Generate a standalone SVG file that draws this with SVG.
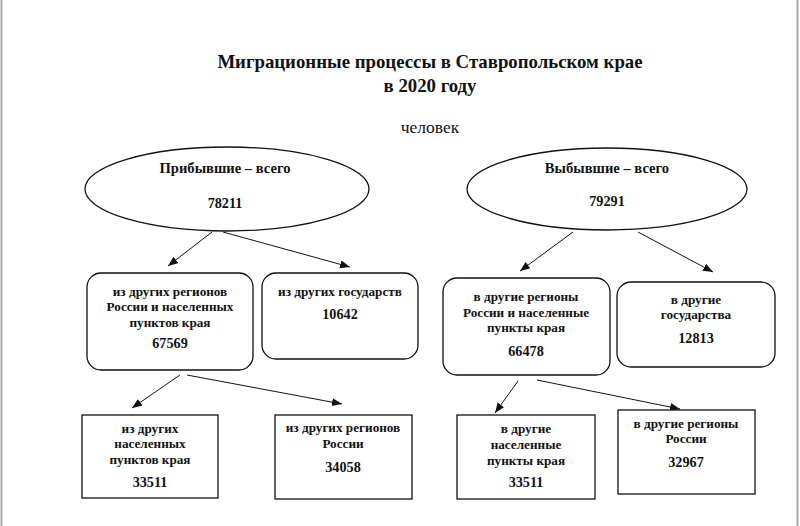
<svg xmlns="http://www.w3.org/2000/svg" width="800" height="526" viewBox="0 0 800 526" font-family="'Liberation Serif', 'Times New Roman', 'DejaVu Serif', serif">
<defs>
<style>
text{font-family:'Liberation Serif','Times New Roman','DejaVu Serif',serif;fill:#111;text-anchor:middle}
.t{font-weight:bold;font-size:18.8px}
.u{font-size:17.5px}
.e{font-weight:bold;font-size:14.6px}
.b{font-weight:bold;font-size:13.2px}
.n{font-weight:bold;font-size:14.2px}
.shape{fill:#fff;stroke:#111;stroke-width:1.3}
.c line{stroke:#111;stroke-width:1}
.frame{stroke:#aaa;stroke-width:2}
</style>
<marker id="ah" markerUnits="userSpaceOnUse" markerWidth="12" markerHeight="10" refX="10" refY="4" orient="auto">
<path d="M0,0 L10,4 L0,8 z" fill="#111"/>
</marker>
</defs>
<rect x="0" y="0" width="800" height="526" fill="#fff"/>
<line class="frame" x1="1.5" y1="0" x2="1.5" y2="526"/>
<line class="frame" x1="797.5" y1="0" x2="797.5" y2="526"/>

<g id="title">
<text class="t" x="430" y="68">Миграционные процессы в Ставропольском крае</text>
<text class="t" x="430" y="92">в 2020 году</text>
<text class="u" x="430" y="133">человек</text>
</g>

<g class="c" id="connectors">
<line x1="212" y1="232" x2="168" y2="266" marker-end="url(#ah)"/>
<line x1="223" y1="232" x2="350" y2="267" marker-end="url(#ah)"/>
<line x1="573" y1="232" x2="520" y2="271" marker-end="url(#ah)"/>
<line x1="638" y1="232" x2="713" y2="272" marker-end="url(#ah)"/>
<line x1="180" y1="375" x2="132" y2="408" marker-end="url(#ah)"/>
<line x1="187" y1="375" x2="342" y2="404" marker-end="url(#ah)"/>
<line x1="518" y1="381" x2="495" y2="413" marker-end="url(#ah)"/>
<line x1="537" y1="380" x2="680" y2="409" marker-end="url(#ah)"/>
</g>

<g id="arrived">
<ellipse class="shape" cx="227" cy="189" rx="142" ry="42"/>
<text class="e" x="225" y="173">Прибывшие – всего</text>
<text class="n" x="225" y="208">78211</text>
</g>
<g id="departed">
<ellipse class="shape" cx="607" cy="189" rx="140" ry="41"/>
<text class="e" x="607" y="173">Выбывшие – всего</text>
<text class="n" x="607" y="206">79291</text>
</g>

<g id="arr-regions">
<rect class="shape" x="87" y="273" width="166" height="97" rx="14"/>
<text class="b" x="170" y="296">из других регионов</text>
<text class="b" x="170" y="311">России и населенных</text>
<text class="b" x="170" y="327">пунктов края</text>
<text class="n" x="170" y="348">67569</text>
</g>
<g id="arr-foreign">
<rect class="shape" x="262" y="273" width="156" height="86" rx="14"/>
<text class="b" x="340" y="296">из других государств</text>
<text class="n" x="340" y="319">10642</text>
</g>
<g id="dep-regions">
<rect class="shape" x="443" y="278" width="167" height="97" rx="14"/>
<text class="b" x="526" y="301">в другие регионы</text>
<text class="b" x="526" y="317">России и населенные</text>
<text class="b" x="526" y="332">пункты края</text>
<text class="n" x="526" y="356">66478</text>
</g>
<g id="dep-foreign">
<rect class="shape" x="617" y="282" width="158" height="85" rx="14"/>
<text class="b" x="696" y="304">в другие</text>
<text class="b" x="696" y="319">государства</text>
<text class="n" x="696" y="343">12813</text>
</g>

<g id="arr-local">
<rect class="shape" x="82" y="415" width="136" height="83"/>
<text class="b" x="150" y="433">из других</text>
<text class="b" x="150" y="448">населенных</text>
<text class="b" x="150" y="464">пунктов края</text>
<text class="n" x="150" y="487">33511</text>
</g>
<g id="arr-russia">
<rect class="shape" x="275" y="415" width="137" height="84"/>
<text class="b" x="343" y="432">из других регионов</text>
<text class="b" x="343" y="448">России</text>
<text class="n" x="343" y="472">34058</text>
</g>
<g id="dep-local">
<rect class="shape" x="457" y="415" width="138" height="84"/>
<text class="b" x="526" y="433">в другие</text>
<text class="b" x="526" y="449">населенные</text>
<text class="b" x="526" y="465">пункты края</text>
<text class="n" x="526" y="487">33511</text>
</g>
<g id="dep-russia">
<rect class="shape" x="618" y="410" width="137" height="84"/>
<text class="b" x="686" y="428">в другие регионы</text>
<text class="b" x="686" y="443">России</text>
<text class="n" x="686" y="467">32967</text>
</g>
</svg>
